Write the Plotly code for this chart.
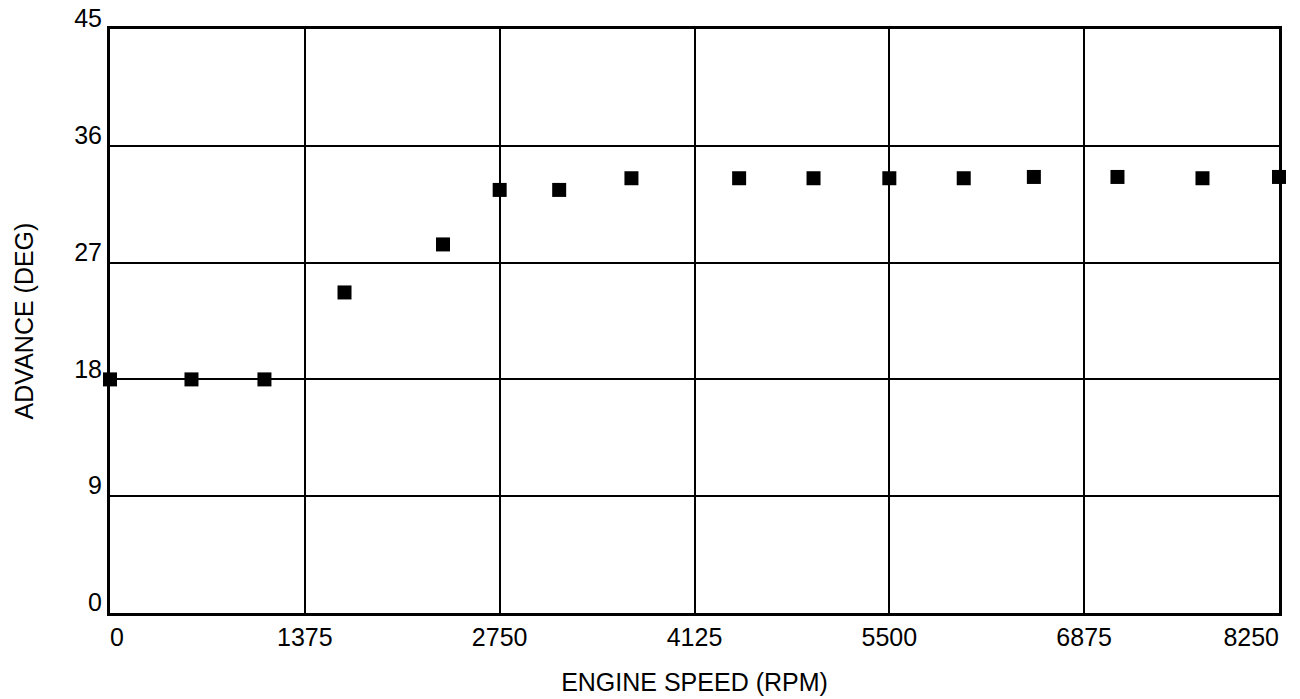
import plotly.graph_objects as go

rpm = [0, 575, 1090, 1655, 2350, 2750, 3170, 3680, 4440, 4965, 5500, 6025, 6520, 7110, 7710, 8250]
advance = [18.0, 18.0, 18.0, 24.7, 28.4, 32.6, 32.6, 33.5, 33.5, 33.5, 33.5, 33.5, 33.6, 33.6, 33.5, 33.6]

x_ticks = [0, 1375, 2750, 4125, 5500, 6875, 8250]
y_ticks = [0, 9, 18, 27, 36, 45]

font_family = "Liberation Sans, Arial, sans-serif"

fig = go.Figure()
fig.add_trace(go.Scatter(
    x=rpm, y=advance, mode="markers",
    marker=dict(symbol="square", size=14, color="black"),
    cliponaxis=False, showlegend=False, hoverinfo="skip",
))
# empty traces so the overlay axes carrying the end labels are drawn
for ax in ("x2", "x3"):
    fig.add_trace(go.Scatter(x=[], y=[], xaxis=ax, yaxis="y", showlegend=False, hoverinfo="skip"))

fig.update_layout(
    width=1300, height=699,
    margin=dict(l=110, r=21, t=29, b=86),
    paper_bgcolor="white", plot_bgcolor="white",
    font=dict(family=font_family, size=25, color="black"),
)

common_x = dict(range=[0, 8250], showgrid=False, showline=False, zeroline=False, ticks="",
                automargin=False, ticklabeloverflow="allow", ticklabelstandoff=7)

fig.update_layout(
    xaxis=dict(
        range=[0, 8250], tickvals=x_ticks[1:-1], ticktext=[str(v) for v in x_ticks[1:-1]],
        showgrid=True, gridcolor="black", gridwidth=1.6,
        showline=True, linecolor="black", linewidth=3, mirror=True,
        zeroline=False, ticks="", automargin=False, ticklabeloverflow="allow",
        title=dict(text="ENGINE SPEED (RPM)", standoff=24, font=dict(size=25)),
    ),
    xaxis2=dict(overlaying="x", side="bottom", tickvals=[x_ticks[0]], ticktext=[str(x_ticks[0])],
                ticklabelposition="outside right", **common_x),
    xaxis3=dict(overlaying="x", side="bottom", tickvals=[x_ticks[-1]], ticktext=[str(x_ticks[-1])],
                ticklabelposition="outside left", **common_x),
    yaxis=dict(
        range=[0, 45], tickvals=y_ticks, ticktext=[str(v) for v in y_ticks],
        showgrid=True, gridcolor="black", gridwidth=1.6,
        showline=True, linecolor="black", linewidth=3, mirror=True,
        zeroline=False, ticks="", ticklabelposition="outside top", ticklabelshift=7,
        automargin=False, ticklabeloverflow="allow",
        title=dict(text="ADVANCE (DEG)", standoff=34, font=dict(size=25)),
    ),
)

fig.write_html(
    "out.html",
    config={"displayModeBar": False},
    post_script="document.body.style.margin='0';document.body.style.overflow='hidden';",
)
